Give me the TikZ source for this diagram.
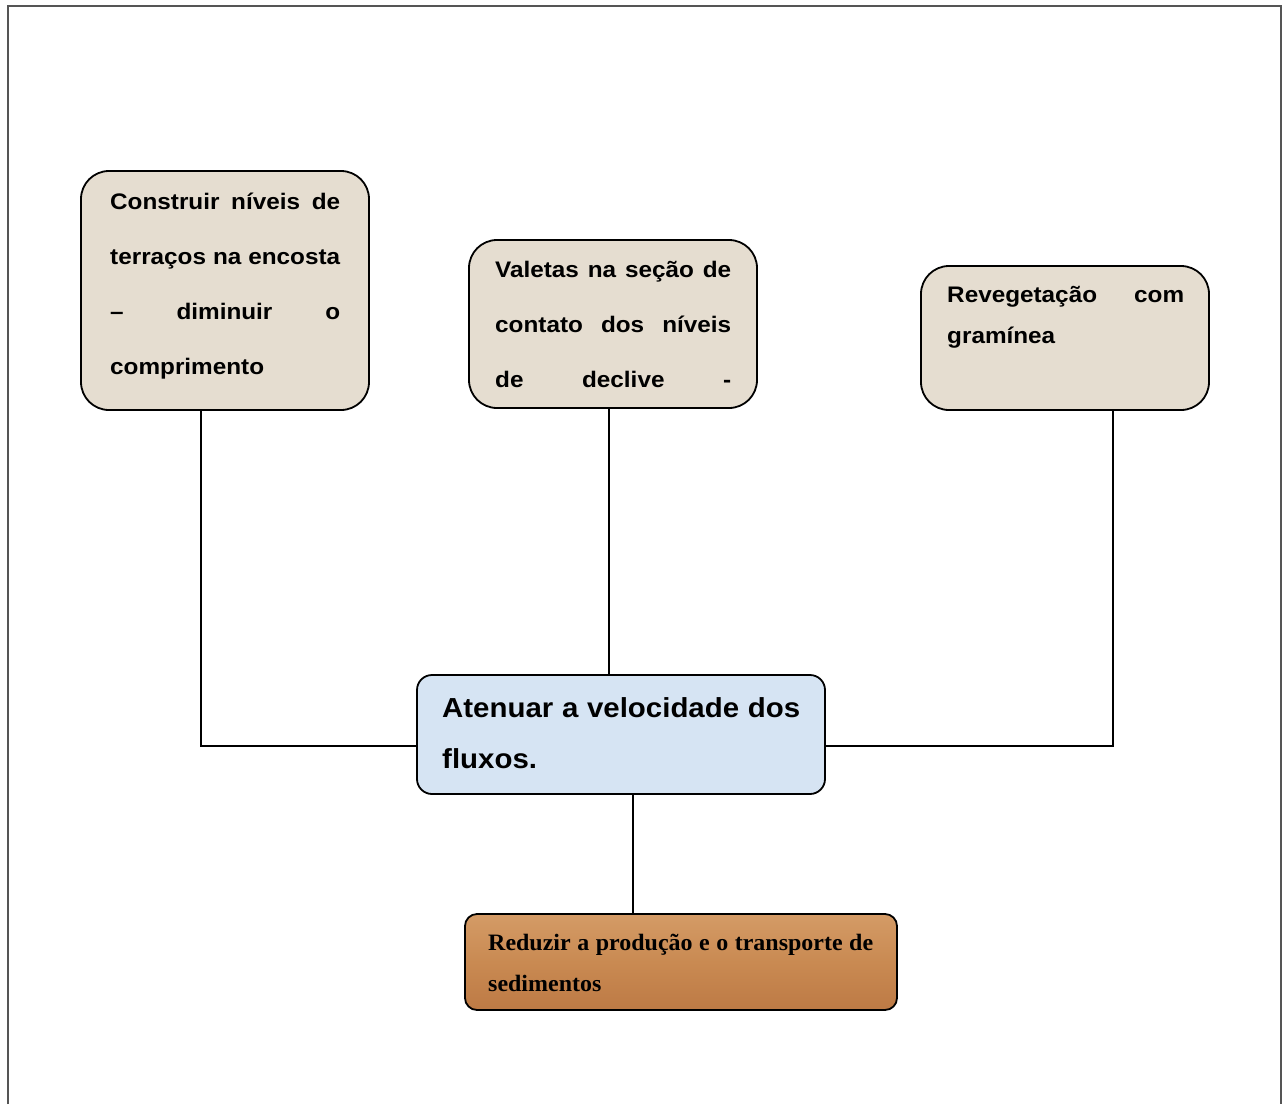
\documentclass[tikz,border=0pt]{standalone}
\usepackage{fontspec}
\setmainfont{Liberation Sans}[FakeStretch=1.08]
\newfontfamily\widesans{Liberation Sans}[FakeStretch=1.07]
\newfontfamily\serifbold{Liberation Serif}[FakeStretch=1.02]
\begin{document}
\begin{tikzpicture}[x=1pt,y=-1pt,
  box/.style={draw=black, line width=1.8pt, inner sep=0pt},
  stone/.style={box, fill=stonecol, rounded corners=28pt},
  water/.style={box, fill=watercol, rounded corners=15pt},
  wood/.style={box, top color=woodtop, bottom color=woodbot, middle color=woodmid, rounded corners=12pt},
  txt/.style={inner sep=0pt, anchor=base west, font=\bfseries\fontsize{22.5}{22.5}\selectfont},
  bigtxt/.style={txt, font=\widesans\bfseries\fontsize{27.5}{27.5}\selectfont},
  sertxt/.style={txt, font=\serifbold\bfseries\fontsize{23.5}{23.5}\selectfont},
  link/.style={draw=black, line width=1.4pt}]
\definecolor{stonecol}{HTML}{E5DDD0}
\definecolor{watercol}{HTML}{D6E4F3}
\definecolor{woodtop}{HTML}{D49B66}
\definecolor{woodmid}{HTML}{C98A52}
\definecolor{woodbot}{HTML}{BD7A45}
\definecolor{framecol}{HTML}{555555}

\useasboundingbox (0,0) rectangle (1286,1104);
\fill[white] (0,0) rectangle (1286,1104);

% page frame (open at the bottom)
\draw[framecol, line width=2pt] (8,1104) -- (8,6) -- (1281,6) -- (1281,1104);

% boxes
\node[stone, minimum width=288pt, minimum height=239pt] (b1) at (225,290.5) {};
\node[stone, minimum width=288pt, minimum height=168pt] (b2) at (613,324) {};
\node[stone, minimum width=288pt, minimum height=144pt] (b3) at (1065,338) {};
\node[water, minimum width=408pt, minimum height=119pt] (c) at (621,734.5) {};
\node[wood, minimum width=432pt, minimum height=96pt] (r) at (681,962) {};

% texts
\node[txt] (t1) at (110,209) {\vtop{\baselineskip=55pt
  \hbox to 230pt{Construir\hfill níveis\hfill de}
  \hbox to 230pt{terraços\hfill na\hfill encosta}
  \hbox to 230pt{–\hfill diminuir\hfill o}
  \hbox{comprimento}}};
\node[txt] (t2) at (495,277) {\vtop{\baselineskip=55pt
  \hbox to 236pt{Valetas\hfill na\hfill seção\hfill de}
  \hbox to 236pt{contato\hfill dos\hfill níveis}
  \hbox to 236pt{de\hfill declive\hfill -}}};
\node[txt] (t3) at (947,302) {\vtop{\baselineskip=41pt
  \hbox to 237pt{Revegetação\hfill com}
  \hbox{gramínea}}};
\node[bigtxt] (tc) at (442,717) {\vtop{\baselineskip=51pt
  \hbox to 358pt{Atenuar\hfill a\hfill velocidade\hfill dos}
  \hbox{fluxos.}}};
\node[sertxt] (tr) at (488,950) {\vtop{\baselineskip=41pt
  \hbox to 385pt{Reduzir\hfill a\hfill produção\hfill e\hfill o\hfill transporte\hfill de}
  \hbox{sedimentos}}};

% connector bends
\coordinate (k1) at (201,746);
\coordinate (k2) at (609,500);
\coordinate (k3) at (1113,746);
\coordinate (k4) at (633,850);

\draw[link] (b1.south -| k1) -- (k1) -- (c.west |- k1);
\draw[link] (b2.south -| k2) -- (c.north -| k2);
\draw[link] (b3.south -| k3) -- (k3) -- (c.east |- k3);
\draw[link] (c.south -| k4) -- (r.north -| k4);
\end{tikzpicture}
\end{document}
